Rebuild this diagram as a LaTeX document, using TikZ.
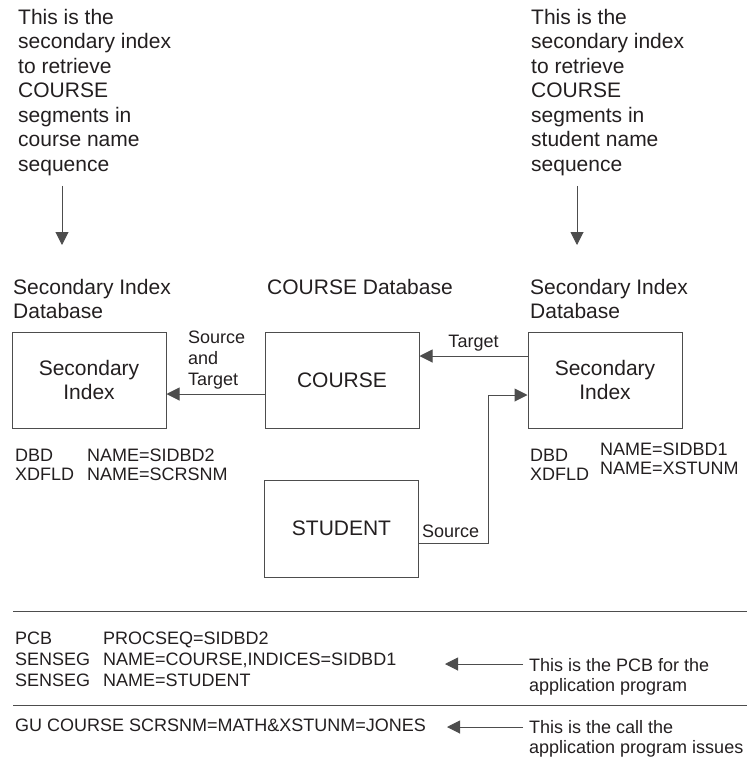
\documentclass[tikz,border=0pt]{standalone}
\usepackage{fontspec}
\setmainfont{Liberation Sans}
\usepackage{xcolor}
\usetikzlibrary{arrows.meta}
\usetikzlibrary{calc}
\definecolor{ink}{HTML}{231F20}
\definecolor{rulegray}{HTML}{4D4D4D}
\newcommand{\notefont}{\fontsize{21}{24.5}\selectfont}
\newcommand{\boxfont}{\fontsize{21}{24}\selectfont}
\newcommand{\codefont}{\fontsize{18}{21}\selectfont}
\newcommand{\dbdfont}{\fontsize{18}{19}\selectfont}
\newcommand{\callfont}{\fontsize{18}{20}\selectfont}

\begin{document}
\begin{tikzpicture}[x=1pt, y=-1pt, text=ink]
  \tikzset{db box/.style={draw=rulegray, line width=1pt, minimum width=154pt, minimum height=96pt, inner sep=0pt, align=center, font=\boxfont}}
  \tikzset{link it/.style={draw=rulegray, line width=1pt, -{Triangle[length=13pt, width=13pt]}}}
  \tikzset{txt/.style={inner sep=0pt, anchor=north west, align=left}}

  \useasboundingbox (0,0) rectangle (747,764);

  \node[txt, font=\notefont] (noteL) at (18,9) {This is the\\secondary index\\to retrieve\\COURSE\\segments in\\course name\\sequence};
  \node[txt, font=\notefont] (noteR) at (531,9) {This is the\\secondary index\\to retrieve\\COURSE\\segments in\\student name\\sequence};
  \coordinate (tipL) at (62,245);
  \coordinate (tipR) at (577,245);
  \draw[link it] (noteL.south -| tipL) ++(0,10) -- (tipL);
  \draw[link it] (noteR.south -| tipR) ++(0,10) -- (tipR);

  \node[txt, font=\boxfont] (hdrL) at (13,279) {Secondary Index\\Database};
  \node[txt, font=\boxfont] (hdrC) at (267,279) {COURSE Database};
  \node[txt, font=\boxfont] (hdrR) at (530,279) {Secondary Index\\Database};

  \node[db box] (sidxL) at (89,380) {Secondary\\Index};
  \node[db box] (course) at (342,380) {COURSE};
  \node[db box] (sidxR) at (605,380) {Secondary\\Index};
  \node[db box, minimum height=97pt] (student) at (341.5,528.5) {STUDENT};

  \draw[link it] ([yshift=-14pt]course.west) -- ([yshift=-14pt]sidxL.east);
  \node[txt, font=\codefont] (srcTgt) at (188,331) {Source\\and\\Target};
  \draw[link it] ([yshift=24pt]sidxR.west) -- node[above=2pt, inner sep=2pt, font=\codefont] (tgt) {Target} ([yshift=24pt]course.east);
  \draw[link it] ([yshift=-14.5pt]student.east) -- ++(69,0) |- ([yshift=-15pt]sidxR.west);
  \node[font=\codefont, inner sep=0pt, anchor=base west] (src) at (422,537) {Source};

  \node[txt, font=\dbdfont] (dbdL) at (15,449) {DBD\\XDFLD};
  \node[txt, font=\dbdfont] (nameL) at (87,449) {NAME=SIDBD2\\NAME=SCRSNM};
  \node[txt, font=\dbdfont] (dbdR) at (530,449) {DBD\\XDFLD};
  \node[txt, font=\dbdfont] (nameR) at (600,443) {NAME=SIDBD1\\NAME=XSTUNM};

  \draw[rulegray, line width=1pt] (13,611) -- (747,611);
  \draw[rulegray, line width=1pt] (13,705) -- (747,705);

  \node[txt, font=\codefont] (pcbKey) at (15,632) {PCB\\SENSEG\\SENSEG};
  \node[txt, font=\codefont] (pcbVal) at (103,632) {PROCSEQ=SIDBD2\\NAME=COURSE,INDICES=SIDBD1\\NAME=STUDENT};
  \node[txt, font=\callfont] (pcbNote) at (529,658) {This is the PCB for the\\application program};
  \coordinate (pcbTip) at (445,664);
  \draw[link it] (pcbNote.north west) ++(-6,6) -- (pcbTip);

  \node[txt, font=\codefont] (guCall) at (15,719) {GU COURSE SCRSNM=MATH\&XSTUNM=JONES};
  \node[txt, font=\callfont] (guNote) at (529,720) {This is the call the\\application program issues};
  \coordinate (guTip) at (447,727);
  \draw[link it] (guNote.north west) ++(-6,7) -- (guTip);
\end{tikzpicture}
\end{document}
